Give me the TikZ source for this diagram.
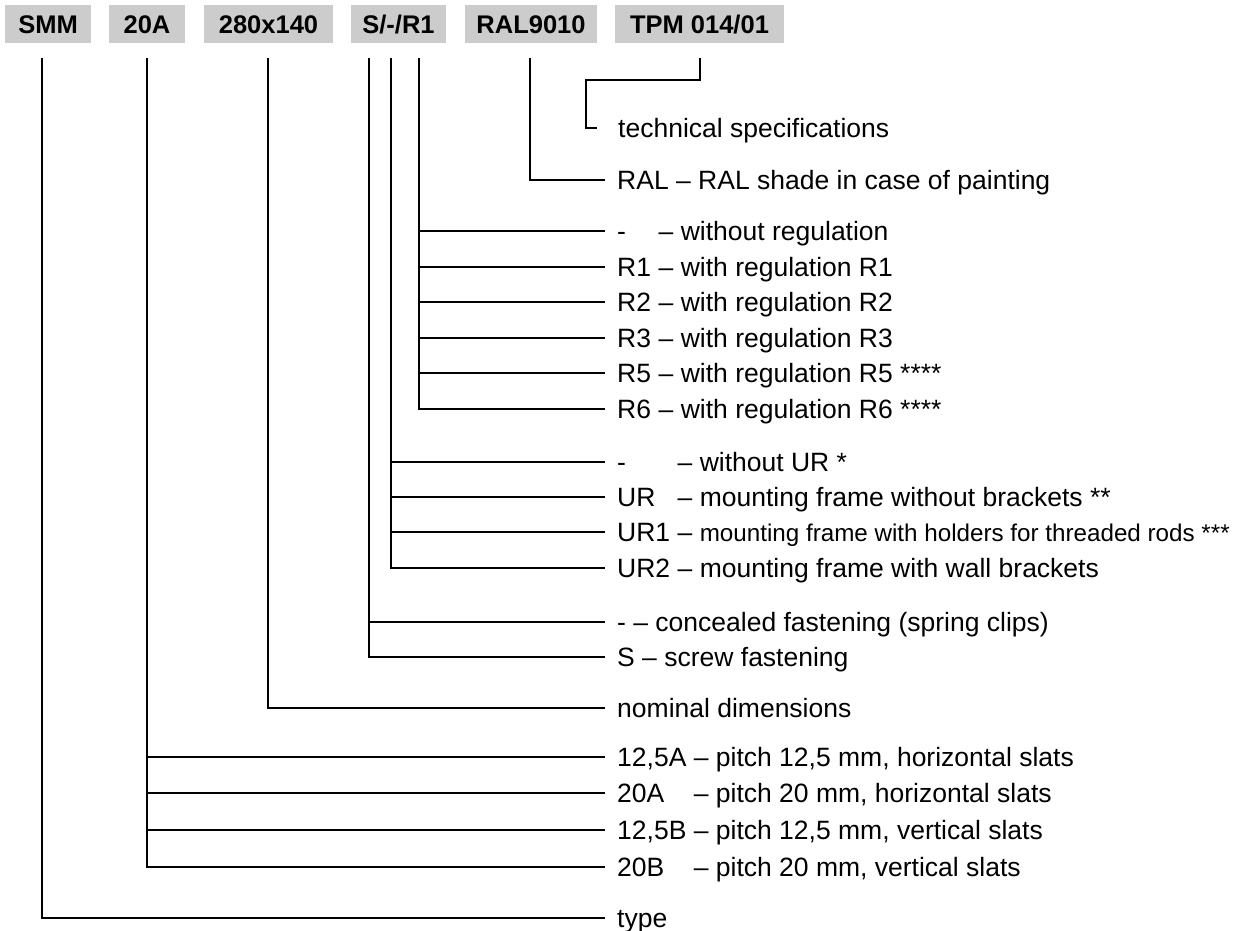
\documentclass[tikz,border=0pt]{standalone}
\usepackage{fontspec}
\setmainfont{Liberation Sans}
\definecolor{boxgray}{HTML}{CCCCCC}
\begin{document}
\begin{tikzpicture}[x=1pt,y=-1pt,
  hdr/.style={fill=boxgray, inner sep=0, minimum height=38, font=\bfseries\fontsize{25.5}{30}\selectfont, text height=18.3, text depth=0},
  lbl/.style={anchor=west, inner xsep=12, inner ysep=0, text height=19, text depth=0, font=\fontsize{26.5}{31}\selectfont},
  conn/.style={line width=2pt}]
\useasboundingbox (0,0) rectangle (1239,931);
% header boxes
\node[hdr, minimum width=86]  (bSMM) at (48,24)    {SMM};
\node[hdr, minimum width=76]  (b20A) at (147,24)   {20A};
\node[hdr, minimum width=129] (bDim) at (268.5,24) {280x140};
\node[hdr, minimum width=95]  (bS)   at (398.5,24) {S/-/R1};
\node[hdr, minimum width=132] (bRAL) at (531,24)   {RAL9010};
\node[hdr, minimum width=169] (bTPM) at (699.5,24) {TPM 014/01};
% connector tops
\coordinate (tSMM) at (42,58);
\coordinate (t20A) at (147,58);
\coordinate (tDim) at (268,58);
\coordinate (tS)   at (369,58);
\coordinate (tUR)  at (391,58);
\coordinate (tR)   at (419,58);
\coordinate (tRAL) at (530,58);
\coordinate (tTPM) at (700,58);
\coordinate (eTPM) at (586,80);
% labels
\node[lbl] (lTech) at (606,128) {technical specifications};
\node[lbl] (lRAL) at (605,180) {RAL – RAL shade in case of painting};
\node[lbl] (lR0) at (605,231)   {\makebox[41.5pt][l]{-}– without regulation};
\node[lbl] (lR1) at (605,266.6) {\makebox[41.5pt][l]{R1}– with regulation R1};
\node[lbl] (lR2) at (605,302.2) {\makebox[41.5pt][l]{R2}– with regulation R2};
\node[lbl] (lR3) at (605,337.8) {\makebox[41.5pt][l]{R3}– with regulation R3};
\node[lbl] (lR5) at (605,373.4) {\makebox[41.5pt][l]{R5}– with regulation R5 ****};
\node[lbl] (lR6) at (605,409)   {\makebox[41.5pt][l]{R6}– with regulation R6 ****};
\node[lbl] (lU0) at (605,462) {\makebox[60.5pt][l]{-}– without UR *};
\node[lbl] (lU1) at (605,497) {\makebox[60.5pt][l]{UR}– mounting frame without brackets **};
\node[lbl] (lU2) at (605,532) {\makebox[60.5pt][l]{UR1}– {\fontsize{24.2}{29}\selectfont mounting frame with holders for threaded rods ***}};
\node[lbl] (lU3) at (605,568) {\makebox[60.5pt][l]{UR2}– mounting frame with wall brackets};
\node[lbl] (lS0) at (605,622) {- – concealed fastening (spring clips)};
\node[lbl] (lS1) at (605,657) {S – screw fastening};
\node[lbl] (lDim) at (605,708) {nominal dimensions};
\node[lbl] (lP0) at (605,757) {\makebox[76.6pt][l]{12,5A}– pitch 12,5 mm, horizontal slats};
\node[lbl] (lP1) at (605,793) {\makebox[76.6pt][l]{20A}– pitch 20 mm, horizontal slats};
\node[lbl] (lP2) at (605,830) {\makebox[76.6pt][l]{12,5B}– pitch 12,5 mm, vertical slats};
\node[lbl] (lP3) at (605,867) {\makebox[76.6pt][l]{20B}– pitch 20 mm, vertical slats};
\node[lbl] (lType) at (605,918) {type};
% connectors
\draw[conn] (tTPM) |- (eTPM) |- ([xshift=-9pt]lTech.west);
\draw[conn] (tRAL) |- (lRAL.west);
\draw[conn] (tR) |- (lR6.west);
\foreach \n in {lR0,lR1,lR2,lR3,lR5} \draw[conn] (tR |- \n.west) -- (\n.west);
\draw[conn] (tUR) |- (lU3.west);
\foreach \n in {lU0,lU1,lU2} \draw[conn] (tUR |- \n.west) -- (\n.west);
\draw[conn] (tS) |- (lS1.west);
\draw[conn] (tS |- lS0.west) -- (lS0.west);
\draw[conn] (tDim) |- (lDim.west);
\draw[conn] (t20A) |- (lP3.west);
\foreach \n in {lP0,lP1,lP2} \draw[conn] (t20A |- \n.west) -- (\n.west);
\draw[conn] (tSMM) |- (lType.west);
\end{tikzpicture}
\end{document}
